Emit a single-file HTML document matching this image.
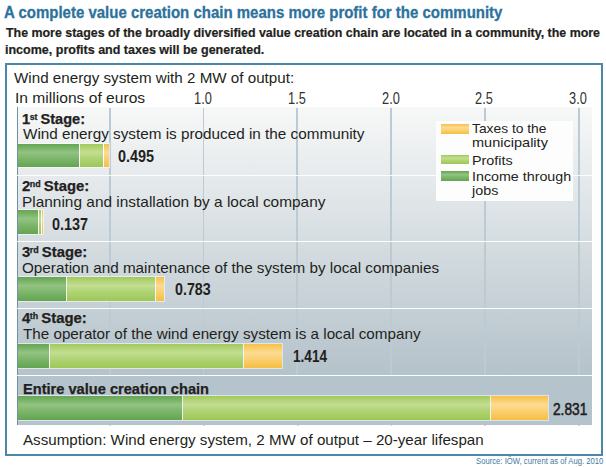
<!DOCTYPE html>
<html><head><meta charset="utf-8"><style>
html,body{margin:0;padding:0;background:#fff;width:606px;height:467px;overflow:hidden;position:relative}
.t{position:absolute;white-space:nowrap;line-height:1;font-family:"Liberation Sans", sans-serif}
.t sup{font-size:60%;vertical-align:0;position:relative;top:-0.5em;margin-left:-0.4px;margin-right:-1.0px}
.pn{position:absolute}
.gl{position:absolute;width:1.8px;background:#bccad4}
.br{position:absolute;box-sizing:border-box}
</style></head><body>
<div class="pn" style="left:5px;top:63px;width:598px;height:393px;box-sizing:border-box;border:2px solid #4a87a8"></div>
<div class="pn" style="left:17.0px;top:106.9px;width:575.0px;height:268.10px;background:linear-gradient(#f7f8f8,#b4c2ca)"></div><div class="pn" style="left:17.0px;top:375.0px;width:575.0px;height:49.90px;background:#b5c3cc"></div><div class="pn" style="left:16.9px;top:106.9px;width:1.1px;height:318.00px;background:#7391a5"></div>
<div class="gl" style="left:108.92px;top:107.9px;height:267.10px"></div><div class="gl" style="left:109.17px;top:424.90px;height:1.3px;opacity:.8"></div><div class="gl" style="left:202.70px;top:107.9px;height:267.10px"></div><div class="gl" style="left:202.95px;top:424.90px;height:1.3px;opacity:.8"></div><div class="gl" style="left:296.48px;top:107.9px;height:267.10px"></div><div class="gl" style="left:296.73px;top:424.90px;height:1.3px;opacity:.8"></div><div class="gl" style="left:390.25px;top:107.9px;height:267.10px"></div><div class="gl" style="left:390.50px;top:424.90px;height:1.3px;opacity:.8"></div><div class="gl" style="left:484.03px;top:107.9px;height:267.10px"></div><div class="gl" style="left:484.28px;top:424.90px;height:1.3px;opacity:.8"></div><div class="gl" style="left:577.80px;top:107.9px;height:267.10px"></div><div class="gl" style="left:578.05px;top:424.90px;height:1.3px;opacity:.8"></div>
<div class="pn" style="left:16.5px;top:175px;width:575.5px;height:1px;background:rgba(255,255,255,.95)"></div><div class="pn" style="left:16.5px;top:241px;width:575.5px;height:1px;background:rgba(255,255,255,.95)"></div><div class="pn" style="left:16.5px;top:308px;width:575.5px;height:1px;background:rgba(255,255,255,.95)"></div><div class="pn" style="left:16.5px;top:375px;width:575.5px;height:1px;background:rgba(255,255,255,.95)"></div>
<div class="br" style="left:18.0px;top:142.85px;width:92.30px;height:25.45px;background:rgba(255,255,255,0.55)"></div><div class="br" style="left:18.00px;top:143.85px;width:61.20px;height:23.45px;background:linear-gradient(#66a655 0%,#72ae60 12%,#92c382 36%,#7eb66c 62%,#62a451 100%)"></div><div class="br" style="left:80.20px;top:143.85px;width:23.20px;height:23.45px;background:linear-gradient(#9fca5b 0%,#add16e 12%,#c3de93 36%,#b0d374 62%,#9cc857 100%)"></div><div class="br" style="left:104.30px;top:143.85px;width:5.00px;height:23.45px;background:linear-gradient(#f6c14b 0%,#f8c95e 12%,#fddb95 36%,#fad172 62%,#f5be45 100%)"></div><div class="br" style="left:79.20px;top:143.85px;width:0.90px;height:23.45px;background:rgba(255,255,255,.5)"></div><div class="br" style="left:103.40px;top:143.85px;width:0.90px;height:23.45px;background:rgba(255,255,255,.5)"></div><div class="br" style="left:18.0px;top:209.45px;width:26.10px;height:25.45px;background:rgba(255,255,255,0.55)"></div><div class="br" style="left:18.00px;top:210.45px;width:19.90px;height:23.45px;background:linear-gradient(#66a655 0%,#72ae60 12%,#92c382 36%,#7eb66c 62%,#62a451 100%)"></div><div class="br" style="left:38.90px;top:210.45px;width:2.00px;height:23.45px;background:linear-gradient(#9fca5b 0%,#add16e 12%,#c3de93 36%,#b0d374 62%,#9cc857 100%)"></div><div class="br" style="left:41.80px;top:210.45px;width:1.30px;height:23.45px;background:linear-gradient(#f6c14b 0%,#f8c95e 12%,#fddb95 36%,#fad172 62%,#f5be45 100%)"></div><div class="br" style="left:37.90px;top:210.45px;width:0.90px;height:23.45px;background:rgba(255,255,255,.5)"></div><div class="br" style="left:40.90px;top:210.45px;width:0.90px;height:23.45px;background:rgba(255,255,255,.5)"></div><div class="br" style="left:18.0px;top:276.00px;width:146.70px;height:26.00px;background:rgba(255,255,255,0.55)"></div><div class="br" style="left:18.00px;top:277.0px;width:48.10px;height:24.00px;background:linear-gradient(#66a655 0%,#72ae60 12%,#92c382 36%,#7eb66c 62%,#62a451 100%)"></div><div class="br" style="left:67.10px;top:277.0px;width:87.50px;height:24.00px;background:linear-gradient(#9fca5b 0%,#add16e 12%,#c3de93 36%,#b0d374 62%,#9cc857 100%)"></div><div class="br" style="left:155.50px;top:277.0px;width:8.20px;height:24.00px;background:linear-gradient(#f6c14b 0%,#f8c95e 12%,#fddb95 36%,#fad172 62%,#f5be45 100%)"></div><div class="br" style="left:66.10px;top:277.0px;width:0.90px;height:24.00px;background:rgba(255,255,255,.5)"></div><div class="br" style="left:154.60px;top:277.0px;width:0.90px;height:24.00px;background:rgba(255,255,255,.5)"></div><div class="br" style="left:18.0px;top:343.00px;width:265.20px;height:25.90px;background:rgba(255,255,255,0.55)"></div><div class="br" style="left:18.00px;top:344.0px;width:30.60px;height:23.90px;background:linear-gradient(#66a655 0%,#72ae60 12%,#92c382 36%,#7eb66c 62%,#62a451 100%)"></div><div class="br" style="left:49.60px;top:344.0px;width:193.70px;height:23.90px;background:linear-gradient(#9fca5b 0%,#add16e 12%,#c3de93 36%,#b0d374 62%,#9cc857 100%)"></div><div class="br" style="left:244.20px;top:344.0px;width:38.00px;height:23.90px;background:linear-gradient(#f6c14b 0%,#f8c95e 12%,#fddb95 36%,#fad172 62%,#f5be45 100%)"></div><div class="br" style="left:48.60px;top:344.0px;width:0.90px;height:23.90px;background:rgba(255,255,255,.5)"></div><div class="br" style="left:243.30px;top:344.0px;width:0.90px;height:23.90px;background:rgba(255,255,255,.5)"></div><div class="br" style="left:18.0px;top:395.00px;width:531.00px;height:25.80px;background:rgba(255,255,255,0.55)"></div><div class="br" style="left:18.00px;top:396.0px;width:164.00px;height:23.80px;background:linear-gradient(#66a655 0%,#72ae60 12%,#92c382 36%,#7eb66c 62%,#62a451 100%)"></div><div class="br" style="left:183.00px;top:396.0px;width:307.40px;height:23.80px;background:linear-gradient(#9fca5b 0%,#add16e 12%,#c3de93 36%,#b0d374 62%,#9cc857 100%)"></div><div class="br" style="left:491.30px;top:396.0px;width:56.70px;height:23.80px;background:linear-gradient(#f6c14b 0%,#f8c95e 12%,#fddb95 36%,#fad172 62%,#f5be45 100%)"></div><div class="br" style="left:182.00px;top:396.0px;width:0.90px;height:23.80px;background:rgba(255,255,255,.5)"></div><div class="br" style="left:490.40px;top:396.0px;width:0.90px;height:23.80px;background:rgba(255,255,255,.5)"></div>
<div class="pn" style="left:436px;top:120.6px;width:137px;height:80.2px;background:#fdfdfd"></div><div class="br" style="left:441px;top:124.2px;width:28px;height:9.8px;background:linear-gradient(#f6c14b 0%,#f8c95e 12%,#fddb95 36%,#fad172 62%,#f5be45 100%)"></div><div class="br" style="left:441px;top:154.6px;width:28px;height:9.8px;background:linear-gradient(#9fca5b 0%,#add16e 12%,#c3de93 36%,#b0d374 62%,#9cc857 100%)"></div><div class="br" style="left:441px;top:171.0px;width:28px;height:9.8px;background:linear-gradient(#66a655 0%,#72ae60 12%,#92c382 36%,#7eb66c 62%,#62a451 100%)"></div>
<div class="t" id="ax10" style="left:173.00px;top:91.36px;width:60px;text-align:center;font-size:16.0px;color:#333;transform:scaleX(0.8);transform-origin:50% 0">1.0</div><div class="t" id="ax15" style="left:266.78px;top:91.36px;width:60px;text-align:center;font-size:16.0px;color:#333;transform:scaleX(0.8);transform-origin:50% 0">1.5</div><div class="t" id="ax20" style="left:360.55px;top:91.36px;width:60px;text-align:center;font-size:16.0px;color:#333;transform:scaleX(0.8);transform-origin:50% 0">2.0</div><div class="t" id="ax25" style="left:454.32px;top:91.36px;width:60px;text-align:center;font-size:16.0px;color:#333;transform:scaleX(0.8);transform-origin:50% 0">2.5</div><div class="t" id="ax30" style="left:548.10px;top:91.36px;width:60px;text-align:center;font-size:16.0px;color:#333;transform:scaleX(0.8);transform-origin:50% 0">3.0</div>
<div class="t" id="title" style="left:4.10px;top:3.83px;font-size:16.5px;font-weight:bold;color:#2b729c;transform:scaleX(0.9086);transform-origin:0 0;-webkit-text-stroke:0.3px #2b729c">A complete value creation chain means more profit for the community</div><div class="t" id="sub1" style="left:6.10px;top:26.65px;font-size:12.35px;font-weight:bold;color:#231f20;transform:scaleX(1.0049);transform-origin:0 0;-webkit-text-stroke:0.2px #231f20">The more stages of the broadly diversified value creation chain are located in a community, the more</div><div class="t" id="sub2" style="left:5.10px;top:44.15px;font-size:12.35px;font-weight:bold;color:#231f20;transform:scaleX(1.0134);transform-origin:0 0;-webkit-text-stroke:0.2px #231f20">income, profits and taxes will be generated.</div><div class="t" id="hdr" style="left:13.70px;top:70.71px;font-size:14.4px;font-weight:normal;color:#231f20;transform:scaleX(1.0550);transform-origin:0 0;">Wind energy system with 2 MW of output:</div><div class="t" id="mil" style="left:15.00px;top:90.51px;font-size:14.4px;font-weight:normal;color:#231f20;transform:scaleX(1.0847);transform-origin:0 0;">In millions of euros</div><div class="t" id="vb1" style="left:117.70px;top:148.71px;font-size:15.6px;font-weight:bold;color:#231f20;transform:scaleX(0.9237);transform-origin:0 0;">0.495</div><div class="t" id="vb2" style="left:52.30px;top:216.66px;font-size:15.6px;font-weight:bold;color:#231f20;transform:scaleX(0.9250);transform-origin:0 0;">0.137</div><div class="t" id="vb3" style="left:175.40px;top:282.01px;font-size:15.6px;font-weight:bold;color:#231f20;transform:scaleX(0.9153);transform-origin:0 0;">0.783</div><div class="t" id="vb4" style="left:292.80px;top:348.51px;font-size:15.6px;font-weight:bold;color:#231f20;transform:scaleX(0.8722);transform-origin:0 0;">1.414</div><div class="t" id="vb5" style="left:553.00px;top:401.81px;font-size:15.6px;font-weight:normal;-webkit-text-stroke:0.55px #231f20;color:#231f20;transform:scaleX(0.8790);transform-origin:0 0;">2.831</div><div class="t" id="sd1" style="left:22.10px;top:112.83px;font-size:13.9px;font-weight:bold;color:#231f20;transform:scaleX(1.0495);transform-origin:0 0;-webkit-text-stroke:0.25px #231f20">1<sup>st</sup> Stage:</div><div class="t" id="d1" style="left:22.50px;top:127.20px;font-size:14.3px;font-weight:normal;color:#231f20;transform:scaleX(1.0689);transform-origin:0 0;">Wind energy system is produced in the community</div><div class="t" id="sd2" style="left:21.70px;top:180.43px;font-size:13.9px;font-weight:bold;color:#231f20;transform:scaleX(1.0700);transform-origin:0 0;-webkit-text-stroke:0.25px #231f20">2<sup>nd</sup> Stage:</div><div class="t" id="d2" style="left:21.50px;top:194.70px;font-size:14.3px;font-weight:normal;color:#231f20;transform:scaleX(1.0786);transform-origin:0 0;">Planning and installation by a local company</div><div class="t" id="sd3" style="left:21.70px;top:246.23px;font-size:13.9px;font-weight:bold;color:#231f20;transform:scaleX(1.0700);transform-origin:0 0;-webkit-text-stroke:0.25px #231f20">3<sup>rd</sup> Stage:</div><div class="t" id="d3" style="left:21.50px;top:260.70px;font-size:14.3px;font-weight:normal;color:#231f20;transform:scaleX(1.0668);transform-origin:0 0;">Operation and maintenance of the system by local companies</div><div class="t" id="sd4" style="left:21.70px;top:312.03px;font-size:13.9px;font-weight:bold;color:#231f20;transform:scaleX(1.0700);transform-origin:0 0;-webkit-text-stroke:0.25px #231f20">4<sup>th</sup> Stage:</div><div class="t" id="d4" style="left:22.50px;top:326.50px;font-size:14.3px;font-weight:normal;color:#231f20;transform:scaleX(1.0643);transform-origin:0 0;">The operator of the wind energy system is a local company</div><div class="t" id="ent" style="left:22.60px;top:381.64px;font-size:14.6px;font-weight:bold;color:#231f20;transform:scaleX(1.0016);transform-origin:0 0;-webkit-text-stroke:0.25px #231f20">Entire value creation chain</div><div class="t" id="ass" style="left:22.80px;top:432.80px;font-size:14.3px;font-weight:normal;color:#231f20;transform:scaleX(1.0599);transform-origin:0 0;">Assumption: Wind energy system, 2 MW of output – 20-year lifespan</div><div class="t" id="src" style="left:476.00px;top:457.47px;font-size:8.3px;font-weight:normal;color:#3f7aa0;transform:scaleX(0.9270);transform-origin:0 0;">Source: IÖW, current as of Aug. 2010</div><div class="t" id="lg1" style="left:471.50px;top:122.26px;font-size:13.4px;font-weight:normal;color:#231f20;transform:scaleX(1.0310);transform-origin:0 0;">Taxes to the</div><div class="t" id="lg2" style="left:471.50px;top:136.26px;font-size:13.4px;font-weight:normal;color:#231f20;transform:scaleX(1.0850);transform-origin:0 0;">municipality</div><div class="t" id="lg3" style="left:471.50px;top:154.06px;font-size:13.4px;font-weight:normal;color:#231f20;transform:scaleX(1.0725);transform-origin:0 0;">Profits</div><div class="t" id="lg4" style="left:471.50px;top:169.86px;font-size:13.4px;font-weight:normal;color:#231f20;transform:scaleX(1.0659);transform-origin:0 0;">Income through</div><div class="t" id="lg5" style="left:471.50px;top:183.66px;font-size:13.4px;font-weight:normal;color:#231f20;transform:scaleX(1.0725);transform-origin:0 0;">jobs</div>
</body></html>
